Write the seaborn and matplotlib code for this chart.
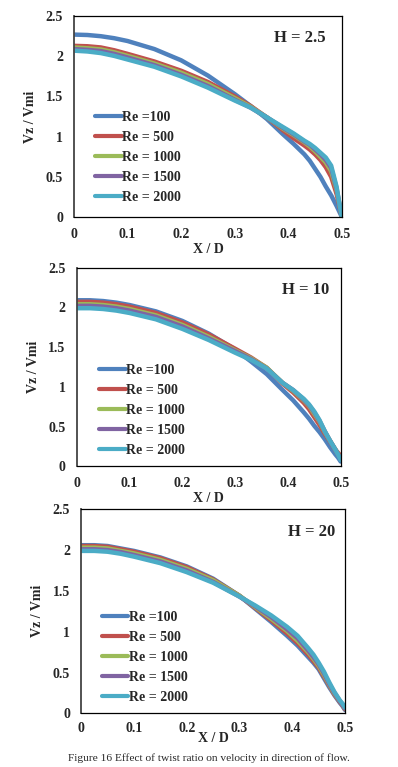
import numpy as np
import pandas as pd
import matplotlib
matplotlib.use("Agg")
import matplotlib.pyplot as plt
import seaborn as sns

# x positions (X / D)
x_pts = [0, 0.025, 0.05, 0.075, 0.1, 0.15, 0.2, 0.25, 0.3, 0.33, 0.36, 0.39,
         0.41, 0.43, 0.44, 0.45, 0.46, 0.47, 0.48, 0.49, 0.495, 0.5]

re_labels = ["Re =100", "Re = 500", "Re = 1000", "Re = 1500", "Re = 2000"]
re_colors = ["#4F81BD", "#C0504D", "#9BBB59", "#8064A2", "#4BACC6"]

# H = 2.5
h25 = [
    [2.27, 2.265, 2.25, 2.225, 2.19, 2.09, 1.95, 1.76, 1.53, 1.38, 1.22, 1.03,
     0.91, 0.78, 0.70, 0.60, 0.50, 0.38, 0.27, 0.14, 0.07, 0.0],
    [2.13, 2.125, 2.11, 2.075, 2.03, 1.935, 1.82, 1.68, 1.50, 1.38, 1.24, 1.08,
     0.98, 0.89, 0.84, 0.78, 0.71, 0.62, 0.50, 0.29, 0.15, 0.0],
    [2.11, 2.10, 2.085, 2.05, 2.005, 1.91, 1.795, 1.655, 1.48, 1.37, 1.24, 1.10,
     1.02, 0.93, 0.88, 0.82, 0.75, 0.68, 0.57, 0.34, 0.17, 0.0],
    [2.09, 2.08, 2.065, 2.03, 1.985, 1.89, 1.77, 1.63, 1.46, 1.36, 1.24, 1.11,
     1.03, 0.94, 0.90, 0.84, 0.78, 0.71, 0.61, 0.36, 0.18, 0.0],
    [2.07, 2.06, 2.04, 2.005, 1.96, 1.87, 1.75, 1.61, 1.45, 1.36, 1.24, 1.12,
     1.04, 0.95, 0.91, 0.86, 0.80, 0.74, 0.64, 0.38, 0.18, 0.0],
]
# H = 10
h10 = [
    [2.09, 2.09, 2.08, 2.06, 2.03, 1.95, 1.83, 1.67, 1.47, 1.32, 1.16, 0.96,
     0.83, 0.68, 0.60, 0.51, 0.43, 0.34, 0.24, 0.15, 0.11, 0.06],
    [2.07, 2.07, 2.06, 2.04, 2.01, 1.93, 1.81, 1.66, 1.48, 1.37, 1.24, 1.04,
     0.93, 0.80, 0.72, 0.62, 0.52, 0.41, 0.31, 0.21, 0.17, 0.13],
    [2.04, 2.04, 2.03, 2.01, 1.98, 1.90, 1.78, 1.63, 1.46, 1.36, 1.24, 1.05,
     0.95, 0.83, 0.76, 0.66, 0.56, 0.43, 0.32, 0.21, 0.15, 0.10],
    [2.02, 2.02, 2.01, 1.99, 1.96, 1.88, 1.76, 1.61, 1.45, 1.35, 1.23, 1.05,
     0.96, 0.84, 0.77, 0.68, 0.57, 0.44, 0.32, 0.21, 0.15, 0.09],
    [1.99, 1.99, 1.98, 1.96, 1.93, 1.85, 1.73, 1.59, 1.43, 1.34, 1.23, 1.05,
     0.96, 0.85, 0.78, 0.69, 0.58, 0.44, 0.32, 0.21, 0.15, 0.08],
]
# H = 20
h20 = [
    [2.06, 2.06, 2.05, 2.02, 1.99, 1.91, 1.80, 1.65, 1.44, 1.28, 1.12, 0.95,
     0.83, 0.69, 0.62, 0.54, 0.43, 0.32, 0.22, 0.13, 0.09, 0.04],
    [2.05, 2.05, 2.04, 2.01, 1.98, 1.90, 1.79, 1.64, 1.44, 1.29, 1.14, 0.98,
     0.86, 0.72, 0.64, 0.56, 0.45, 0.34, 0.23, 0.14, 0.10, 0.05],
    [2.03, 2.03, 2.02, 1.99, 1.96, 1.88, 1.77, 1.63, 1.44, 1.30, 1.16, 1.01,
     0.89, 0.75, 0.67, 0.58, 0.47, 0.35, 0.24, 0.15, 0.11, 0.06],
    [2.01, 2.01, 2.00, 1.975, 1.94, 1.86, 1.75, 1.61, 1.43, 1.31, 1.18, 1.03,
     0.92, 0.77, 0.69, 0.60, 0.49, 0.36, 0.25, 0.15, 0.11, 0.06],
    [1.99, 1.99, 1.98, 1.955, 1.92, 1.84, 1.73, 1.60, 1.43, 1.32, 1.20, 1.06,
     0.95, 0.80, 0.72, 0.62, 0.51, 0.38, 0.26, 0.16, 0.12, 0.07],
]

panels = [("H = 2.5", h25), ("H = 10", h10), ("H = 20", h20)]
x_ticks = [0, 0.1, 0.2, 0.3, 0.4, 0.5]
x_ticklabels = ["0", "0.1", "0.2", "0.3", "0.4", "0.5"]
y_ticks = [0, 0.5, 1, 1.5, 2, 2.5]
y_ticklabels = ["0", "0.5", "1", "1.5", "2", "2.5"]

sns.set_theme(style="white")
plt.rcParams['font.family'] = ['Liberation Serif', 'DejaVu Serif']

fig = plt.figure(figsize=(3.98, 7.67), dpi=100)
# axes boxes in figure fraction
boxes = [
    [0.186, 0.717, 0.673, 0.262],
    [0.193, 0.392, 0.663, 0.259],
    [0.204, 0.070, 0.663, 0.266],
]
title_x = [0.94, 0.958, 0.962]
leg_anchor = [(0.058, 0.037), (0.064, 0.02), (0.056, 0.02)]
x_pad = [8, 8, 6]
xlab_pad = [1, 1, -2]

for (title, vals), box, tx, la, tp, lp in zip(panels, boxes, title_x, leg_anchor,
                                              x_pad, xlab_pad):
    rows = []
    for lab, series in zip(re_labels, vals):
        for xv, yv in zip(x_pts, series):
            rows.append({"X": xv, "V": yv, "Re": lab})
    df = pd.DataFrame(rows)

    ax = fig.add_axes(box)
    sns.lineplot(data=df, x="X", y="V", hue="Re", hue_order=re_labels,
                 palette=re_colors, linewidth=3.2, ax=ax, sort=True)
    ax.set_xlim(0, 0.5)
    ax.set_ylim(0, 2.5)
    ax.set_xticks(x_ticks)
    ax.set_xticklabels(x_ticklabels, fontweight='bold', fontsize=10)
    ax.set_yticks(y_ticks)
    ax.set_yticklabels(y_ticklabels, fontweight='bold', fontsize=10)
    ax.tick_params(axis='both', direction='in', length=3, width=0.8,
                   color='#999999')
    ax.tick_params(axis='x', pad=tp)
    ax.tick_params(axis='y', pad=8)
    ax.set_xlabel("X / D", fontweight='bold', fontsize=10, labelpad=lp)
    ax.set_ylabel("Vz / Vmi", fontweight='bold', fontsize=10, labelpad=6)
    for sp in ax.spines.values():
        sp.set_color('black')
        sp.set_linewidth(0.9)
    ax.spines['left'].set_color('#444444')
    ax.spines['left'].set_linewidth(1.3)

    ax.text(tx, 0.89, title, transform=ax.transAxes, ha='right', va='center',
            fontweight='bold', fontsize=12)

    leg = ax.legend(loc='lower left', bbox_to_anchor=la, frameon=False,
                    handlelength=1.9, handletextpad=0.05, labelspacing=0.5,
                    borderaxespad=0,
                    prop={'family': 'Liberation Serif', 'weight': 'bold', 'size': 10})
    for ln in leg.get_lines():
        ln.set_linewidth(3)

fig.text(0.525, 0.012, "Figure 16 Effect of twist ratio on velocity in direction of flow.",
         ha='center', va='center', fontsize=8.2)

fig.savefig("out.png", dpi=100)
